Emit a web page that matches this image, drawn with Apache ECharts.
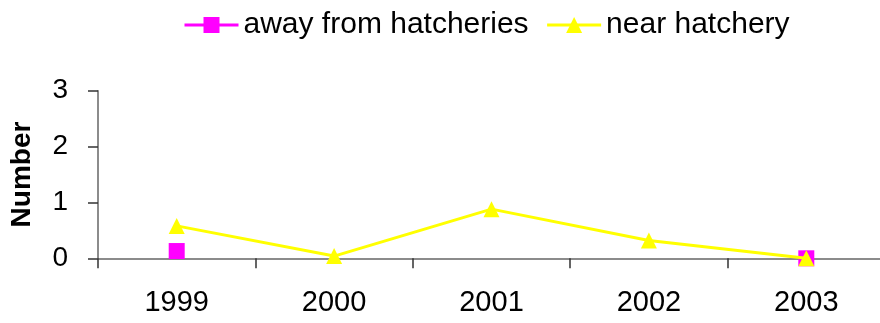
<!DOCTYPE html>
<html>
<head>
<meta charset="utf-8">
<script src="https://cdn.jsdelivr.net/npm/echarts@6/dist/echarts.min.js"></script>
<style>
  html, body { margin: 0; padding: 0; background: #fff; }
  #chart { width: 880px; height: 323px; }
</style>
</head>
<body>
<div id="chart"></div>
<script>
// Survey years and counts at each site type
const years = ['1999', '2000', '2001', '2002', '2003'];
const awayFromHatcheries = [0.13, null, null, null, 0];
const nearHatchery = [0.58, 0.04, 0.88, 0.32, 0];
const yTicks = [0, 1, 2, 3];

const FONT = '"Liberation Sans", Arial, sans-serif';

const chart = echarts.init(document.getElementById('chart'), null, { renderer: 'canvas' });

chart.setOption({
  animation: false,
  backgroundColor: '#ffffff',
  textStyle: { fontFamily: FONT, color: '#000' },
  legend: {
    left: 178,
    top: 5,
    itemWidth: 54,
    itemHeight: 20,
    itemGap: 17,
    lineStyle: { width: 3 },
    textStyle: { fontFamily: FONT, fontSize: 30, color: '#000' },
    data: ['away from hatcheries', 'near hatchery']
  },
  grid: {
    left: 98,
    top: 90.7,
    width: 787,
    height: 167.6,
    containLabel: false,
    outerBoundsMode: 'none'
  },
  xAxis: {
    type: 'category',
    data: years,
    boundaryGap: true,
    axisLine: { lineStyle: { color: '#666', width: 1.5 } },
    axisTick: { show: true, length: 10, lineStyle: { color: '#333', width: 1.5 } },
    axisLabel: { fontFamily: FONT, fontSize: 29, color: '#000', margin: 30 },
    splitLine: { show: false }
  },
  yAxis: {
    type: 'value',
    min: yTicks[0],
    max: yTicks[yTicks.length - 1],
    interval: 1,
    name: 'Number',
    nameLocation: 'middle',
    nameRotate: 90,
    nameGap: 62,
    nameTextStyle: { fontFamily: FONT, fontSize: 28, fontWeight: 'bold', color: '#000' },
    axisLine: { show: true, lineStyle: { color: '#666', width: 1.5 } },
    axisTick: { show: true, length: 10, lineStyle: { color: '#333', width: 1.5 } },
    axisLabel: { fontFamily: FONT, fontSize: 28, color: '#000', margin: 30 },
    splitLine: { show: false }
  },
  series: [
    {
      name: 'away from hatcheries',
      type: 'line',
      data: awayFromHatcheries,
      connectNulls: false,
      symbol: 'rect',
      symbolSize: 16,
      showAllSymbol: true,
      itemStyle: { color: '#ff00ff' },
      lineStyle: { color: '#ff00ff', width: 3 },
      z: 2
    },
    {
      name: 'near hatchery',
      type: 'line',
      data: nearHatchery,
      symbol: 'triangle',
      symbolSize: 16,
      showAllSymbol: true,
      itemStyle: { color: '#ffff00' },
      lineStyle: { color: '#ffff00', width: 3 },
      z: 3
    }
  ]
});
</script>
</body>
</html>
